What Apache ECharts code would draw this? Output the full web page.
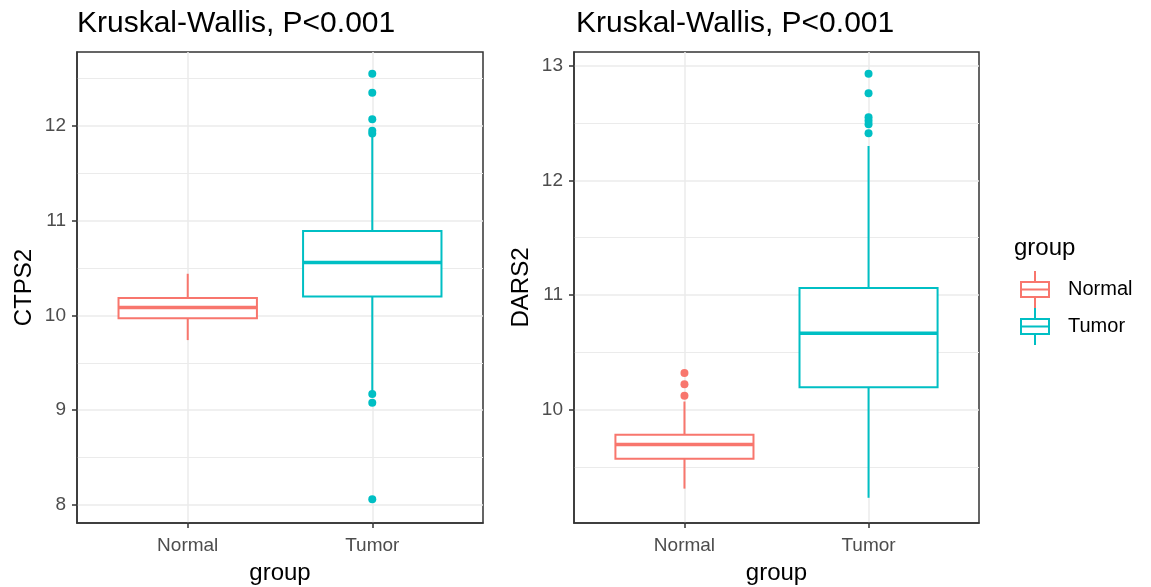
<!DOCTYPE html>
<html>
<head>
<meta charset="utf-8">
<script src="https://cdn.jsdelivr.net/npm/echarts@6/dist/echarts.min.js"></script>
<style>html,body{margin:0;padding:0;background:#fff;}#chart{width:1151px;height:587px;}</style>
</head>
<body>
<div id="chart"></div>
<script>
// ---- data ----
const categories = ['Normal', 'Tumor'];
const groupColors = ['#F8766D', '#00BFC4'];
// box stats: [lowerWhisker, Q1, median, Q3, upperWhisker]
const ctps2Normal = [9.74, 9.97, 10.085, 10.185, 10.44];
const ctps2Tumor = [9.19, 10.20, 10.56, 10.89, 11.90];
const ctps2NormalOutliers = [];
const ctps2TumorOutliers = [12.55, 12.35, 12.07, 11.95, 11.92, 9.17, 9.08, 8.06];
const dars2Normal = [9.31, 9.57, 9.695, 9.78, 10.07];
const dars2Tumor = [9.23, 10.195, 10.665, 11.06, 12.30];
const dars2NormalOutliers = [10.32, 10.22, 10.12];
const dars2TumorOutliers = [12.93, 12.76, 12.55, 12.52, 12.49, 12.41];
const ctps2MajorTicks = [8, 9, 10, 11, 12];
const ctps2MinorTicks = [8.5, 9.5, 10.5, 11.5, 12.5];
const dars2MajorTicks = [10, 11, 12, 13];
const dars2MinorTicks = [9.5, 10.5, 11.5, 12.5];
const titleText = 'Kruskal-Wallis, P<0.001';

// ---- chart ----
const BOX_WIDTH = 0.75;
const FONT = '"Liberation Sans", Arial, sans-serif';
const chart = echarts.init(document.getElementById('chart'));

function renderBox(params, api) {
  const x = api.value(0);
  const lo = api.coord([x, api.value(1)]);
  const q1 = api.coord([x, api.value(2)]);
  const med = api.coord([x, api.value(3)]);
  const q3 = api.coord([x, api.value(4)]);
  const hi = api.coord([x, api.value(5)]);
  const halfW = api.size([BOX_WIDTH, 0])[0] / 2;
  const color = api.visual('color');
  const lw = 2;
  return {
    type: 'group',
    children: [
      { type: 'line', shape: { x1: lo[0], y1: lo[1], x2: q1[0], y2: q1[1] }, style: { stroke: color, lineWidth: lw } },
      { type: 'line', shape: { x1: q3[0], y1: q3[1], x2: hi[0], y2: hi[1] }, style: { stroke: color, lineWidth: lw } },
      { type: 'rect', shape: { x: q3[0] - halfW, y: q3[1], width: 2 * halfW, height: q1[1] - q3[1] }, style: { fill: '#ffffff', stroke: color, lineWidth: lw } },
      { type: 'line', shape: { x1: med[0] - halfW, y1: med[1], x2: med[0] + halfW, y2: med[1] }, style: { stroke: color, lineWidth: 3.5 } }
    ]
  };
}

function boxSeries(name, idx, stats, axisIdx, color) {
  return {
    type: 'custom', name: name, xAxisIndex: axisIdx, yAxisIndex: axisIdx,
    renderItem: renderBox, itemStyle: { color: color },
    encode: { x: 0, y: [1, 2, 3, 4, 5] },
    data: [[idx + 1].concat(stats)], z: 3, silent: true
  };
}
function outlierSeries(name, idx, vals, axisIdx, color) {
  return {
    type: 'scatter', name: name, xAxisIndex: axisIdx, yAxisIndex: axisIdx,
    symbol: 'circle', symbolSize: 8, itemStyle: { color: color, opacity: 1 },
    data: vals.map(v => [idx + 1, v]), z: 4, silent: true
  };
}

function xAxisDef(gridIndex) {
  return {
    type: 'value', gridIndex: gridIndex, min: 0.4, max: 2.6,
    name: 'group', nameLocation: 'middle', nameGap: 38,
    nameTextStyle: { fontFamily: FONT, fontSize: 24, color: '#000' },
    axisLine: { show: true, lineStyle: { color: '#333333', width: 1.5 } },
    axisTick: { show: true, length: 5, customValues: [1, 2], lineStyle: { color: '#333333', width: 1.5 } },
    axisLabel: { show: true, customValues: [1, 2], margin: 13, fontFamily: FONT, fontSize: 19, color: '#4D4D4D',
      formatter: v => categories[Math.round(v) - 1] || '' },
    splitLine: { show: true, lineStyle: { color: '#EBEBEB', width: 1.5 } }
  };
}
function yAxisDef(gridIndex, name, min, max, ticks) {
  return {
    type: 'value', gridIndex: gridIndex, min: min, max: max,
    name: name, nameLocation: 'middle', nameRotate: 90, nameGap: 41,
    nameTextStyle: { fontFamily: FONT, fontSize: 24, color: '#000' },
    axisLine: { show: true, lineStyle: { color: '#333333', width: 1.5 } },
    axisTick: { show: true, length: 5, customValues: ticks, lineStyle: { color: '#333333', width: 1.5 } },
    axisLabel: { show: true, customValues: ticks, margin: 11, fontFamily: FONT, fontSize: 19, color: '#4D4D4D' },
    splitLine: { show: true, lineStyle: { color: '#EBEBEB', width: 1.5 } }
  };
}
function yMinorDef(gridIndex, min, max, ticks) {
  return {
    type: 'value', gridIndex: gridIndex, min: min, max: max, position: 'left',
    axisLine: { show: false }, axisLabel: { show: false },
    axisTick: { show: false, customValues: ticks },
    splitLine: { show: true, lineStyle: { color: '#EBEBEB', width: 1.2 } }
  };
}

const legendIcon = 'path://M0,20H4V54H0Z M56,20H60V54H56Z M4,20H56V24H4Z M4,50H56V54H4Z M4,35H56V39H4Z M28,0H32V20H28Z M28,54H32V74H28Z';

const option = {
  animation: false,
  backgroundColor: '#ffffff',
  title: [
    { text: titleText, left: 77, top: 9, padding: 0, textStyle: { fontFamily: FONT, fontSize: 30, fontWeight: 'normal', color: '#000' } },
    { text: titleText, left: 576, top: 9, padding: 0, textStyle: { fontFamily: FONT, fontSize: 30, fontWeight: 'normal', color: '#000' } },
    { text: 'group', left: 1014, top: 236, padding: 0, textStyle: { fontFamily: FONT, fontSize: 24, fontWeight: 'normal', color: '#000' } }
  ],
  legend: {
    orient: 'vertical', left: 1015, top: 266, itemWidth: 30, itemHeight: 37, itemGap: 0,
    data: [
      { name: 'Normal', icon: legendIcon, itemStyle: { color: groupColors[0], borderWidth: 0 } },
      { name: 'Tumor', icon: legendIcon, itemStyle: { color: groupColors[1], borderWidth: 0 } }
    ],
    textStyle: { fontFamily: FONT, fontSize: 20, color: '#000', padding: [0, 0, 0, 13] },
    selectedMode: false
  },
  grid: [
    { left: 77, right: 1151 - 483, top: 52, bottom: 587 - 523, outerBoundsMode: 'none', containLabel: false, show: true, borderColor: '#333333', borderWidth: 1.5, backgroundColor: 'transparent' },
    { left: 574, right: 1151 - 979, top: 52, bottom: 587 - 523, outerBoundsMode: 'none', containLabel: false, show: true, borderColor: '#333333', borderWidth: 1.5, backgroundColor: 'transparent' }
  ],
  xAxis: [xAxisDef(0), xAxisDef(1)],
  yAxis: [
    yAxisDef(0, 'CTPS2', 7.81, 12.78, ctps2MajorTicks),
    yAxisDef(1, 'DARS2', 9.01, 13.12, dars2MajorTicks),
    yMinorDef(0, 7.81, 12.78, ctps2MinorTicks),
    yMinorDef(1, 9.01, 13.12, dars2MinorTicks)
  ],
  series: [
    boxSeries('Normal', 0, ctps2Normal, 0, groupColors[0]),
    boxSeries('Tumor', 1, ctps2Tumor, 0, groupColors[1]),
    outlierSeries('Normal', 0, ctps2NormalOutliers, 0, groupColors[0]),
    outlierSeries('Tumor', 1, ctps2TumorOutliers, 0, groupColors[1]),
    boxSeries('Normal', 0, dars2Normal, 1, groupColors[0]),
    boxSeries('Tumor', 1, dars2Tumor, 1, groupColors[1]),
    outlierSeries('Normal', 0, dars2NormalOutliers, 1, groupColors[0]),
    outlierSeries('Tumor', 1, dars2TumorOutliers, 1, groupColors[1])
  ]
};
chart.setOption(option);
</script>
</body>
</html>
